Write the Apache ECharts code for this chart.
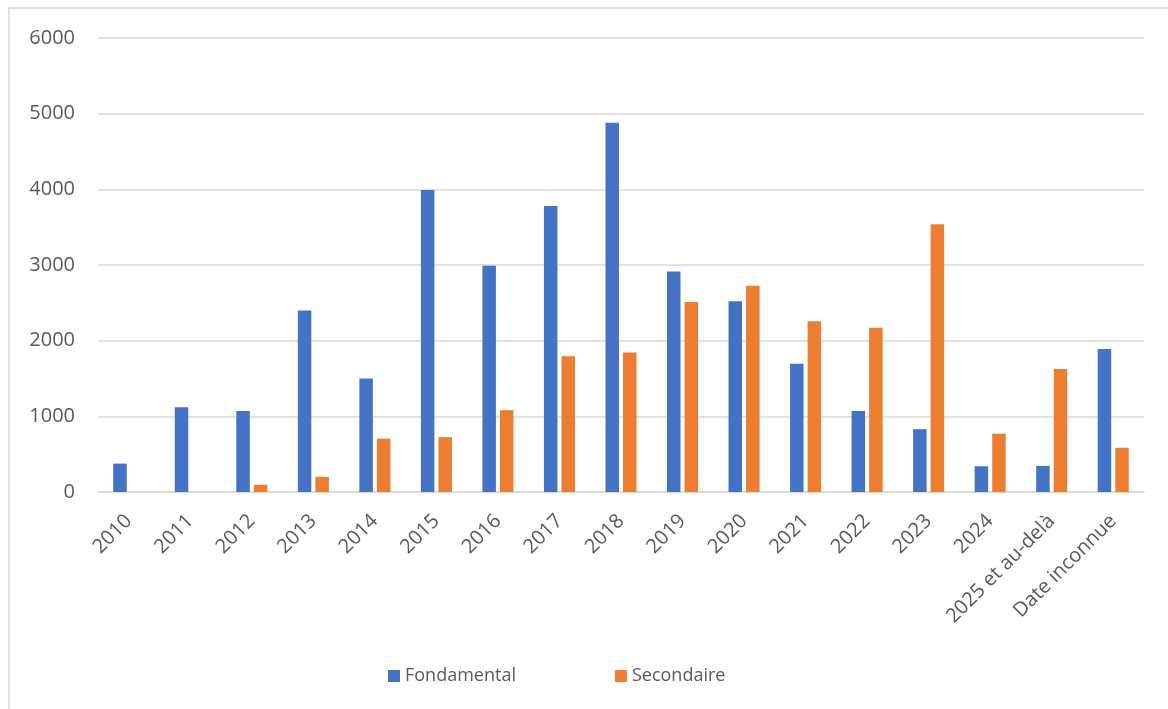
<!DOCTYPE html>
<html>
<head>
<meta charset="utf-8">
<script src="https://cdn.jsdelivr.net/npm/echarts@6/dist/echarts.min.js"></script>
<style>
  html, body { margin: 0; padding: 0; background: #fff; }
  #chart { width: 1168px; height: 709px; }
</style>
</head>
<body>
<div id="chart"></div>
<script>
var chart = echarts.init(document.getElementById('chart'));

// catégories (années)
var categories = ['2010', '2011', '2012', '2013', '2014', '2015', '2016', '2017', '2018',
  '2019', '2020', '2021', '2022', '2023', '2024', '2025 et au-delà', 'Date inconnue'];
var fondamental = [375, 1120, 1070, 2400, 1500, 3990, 2990, 3780, 4880,
  2915, 2520, 1695, 1070, 830, 340, 345, 1890];
var secondaire = [0, 0, 95, 200, 705, 725, 1080, 1795, 1845,
  2510, 2725, 2255, 2170, 3540, 770, 1625, 585];
var yTicks = [0, 1000, 2000, 3000, 4000, 5000, 6000];

var FONT = 'Open Sans';
var TXT = '#595959';

var option = {
  backgroundColor: '#ffffff',
  animation: false,
  graphic: [{
    type: 'rect',
    shape: { x: 9, y: 8, width: 1200, height: 760 },
    style: { fill: 'none', stroke: '#d9d9d9', lineWidth: 1.5 },
    silent: true
  }],
  grid: { left: 98, right: 24, top: 38, bottom: 217 },
  legend: {
    left: 388,
    top: 667,
    padding: 0,
    itemWidth: 12,
    itemHeight: 12,
    itemGap: 99,
    icon: 'rect',
    textStyle: { fontFamily: FONT, fontSize: 18, color: TXT },
    data: ['Fondamental', 'Secondaire']
  },
  xAxis: {
    type: 'category',
    data: categories,
    axisLine: { lineStyle: { color: '#d9d9d9', width: 1.5 } },
    axisTick: { show: false },
    axisLabel: {
      rotate: 45,
      interval: 0,
      margin: 26,
      fontFamily: FONT,
      fontSize: 20,
      color: TXT
    }
  },
  yAxis: {
    type: 'value',
    min: yTicks[0],
    max: yTicks[yTicks.length - 1],
    interval: 1000,
    axisLine: { show: false },
    axisTick: { show: false },
    splitLine: { lineStyle: { color: '#d9d9d9', width: 1.5 } },
    axisLabel: {
      margin: 23,
      fontFamily: FONT,
      fontSize: 20,
      color: TXT,
      formatter: function (v) { return String(v); }
    }
  },
  series: [
    {
      name: 'Fondamental',
      type: 'bar',
      data: fondamental,
      barWidth: 13.5,
      barGap: '30%',
      itemStyle: { color: '#4472C4' }
    },
    {
      name: 'Secondaire',
      type: 'bar',
      data: secondaire,
      barWidth: 13.5,
      itemStyle: { color: '#ED7D31' }
    }
  ]
};
chart.setOption(option);
</script>
</body>
</html>
